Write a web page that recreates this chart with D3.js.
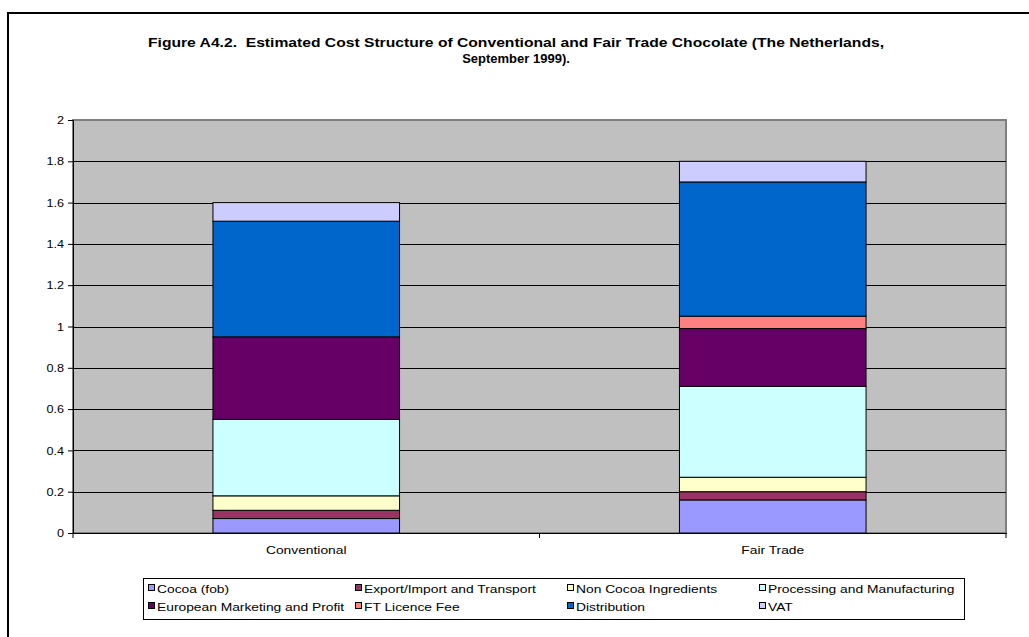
<!DOCTYPE html>
<html>
<head>
<meta charset="utf-8">
<script src="https://cdn.jsdelivr.net/npm/d3@7"></script>
<style>
  html, body { margin: 0; padding: 0; background: #fff; }
  text { font-family: "Liberation Sans", Arial, sans-serif; white-space: pre; }
</style>
</head>
<body>
<svg id="chart" width="1029" height="637"></svg>
<script>
const categories = ["Conventional", "Fair Trade"];
const seriesNames = ["Cocoa (fob)", "Export/Import and Transport", "Non Cocoa Ingredients", "Processing and Manufacturing",
  "European Marketing and Profit", "FT Licence Fee", "Distribution", "VAT"];
const cocoa        = [0.07, 0.16];
const exportImport = [0.04, 0.04];
const nonCocoa     = [0.07, 0.07];
const processing   = [0.37, 0.44];
const marketing    = [0.40, 0.28];
const ftFee        = [0.00, 0.06];
const distribution = [0.56, 0.65];
const vat          = [0.09, 0.10];
const yTicks = [0, 0.2, 0.4, 0.6, 0.8, 1, 1.2, 1.4, 1.6, 1.8, 2];
const colors = ["#9999FF", "#993366", "#FFFFCC", "#CCFFFF", "#660066", "#FF8080", "#0066CC", "#CCCCFF"];
const titleLines = ["Figure A4.2.  Estimated Cost Structure of Conventional and Fair Trade Chocolate (The Netherlands,", "September 1999)."];

const seriesValues = [cocoa, exportImport, nonCocoa, processing, marketing, ftFee, distribution, vat];
const table = categories.map((c, i) => {
  const row = { category: c };
  seriesNames.forEach((s, j) => row[s] = seriesValues[j][i]);
  return row;
});

const svg = d3.select("#chart");
const plot = { left: 73, right: 1006, top: 120, bottom: 533 };
const stretch = 1.2;  // the reference text is rendered wider than the local fonts

function widen(sel, k) {
  sel.each(function () {
    const w = this.getComputedTextLength();
    d3.select(this).attr("textLength", w * k).attr("lengthAdjust", "spacingAndGlyphs");
  });
}

// outer border
svg.append("rect").attr("x", 8).attr("y", 13).attr("width", 1040).attr("height", 640)
  .attr("fill", "none").attr("stroke", "#000").attr("stroke-width", 2);

// title
const titleTexts = svg.append("g").selectAll("text").data(titleLines).join("text")
  .attr("text-anchor", "middle").attr("x", 516).attr("y", (d, i) => 47 + i * 16)
  .attr("font-size", 13).attr("font-weight", "bold").attr("fill", "#000")
  .text(d => d);
titleTexts.filter((d, i) => i === 0)
  .attr("textLength", 736).attr("lengthAdjust", "spacingAndGlyphs");

const xOuter = d3.scaleBand().domain(categories).range([plot.left, plot.right]);
const y = d3.scaleLinear().domain([0, 2]).range([plot.bottom, plot.top]);
const barW = xOuter.bandwidth() / 2.5;   // Excel gap width 150%

// plot background
svg.append("rect").attr("x", plot.left).attr("y", plot.top)
  .attr("width", plot.right - plot.left).attr("height", plot.bottom - plot.top)
  .attr("fill", "#C0C0C0").attr("stroke", "#808080").attr("stroke-width", 2);

// gridlines
svg.append("g").selectAll("line").data(yTicks.filter(d => d > 0 && d < 2)).join("line")
  .attr("x1", plot.left).attr("x2", plot.right)
  .attr("y1", d => Math.round(y(d)) + 0.5).attr("y2", d => Math.round(y(d)) + 0.5)
  .attr("stroke", "#000").attr("stroke-width", 1);

// stacked bars
const stack = d3.stack().keys(seriesNames)(table);
svg.append("g").selectAll("g").data(stack).join("g")
  .attr("fill", (d, i) => colors[i])
  .selectAll("rect").data(d => d.filter(s => s[1] - s[0] > 0)).join("rect")
  .attr("x", d => xOuter(d.data.category) + (xOuter.bandwidth() - barW) / 2)
  .attr("width", barW)
  .attr("y", d => y(d[1]))
  .attr("height", d => y(d[0]) - y(d[1]))
  .attr("stroke", "#000").attr("stroke-width", 1);

// y axis
const yAxis = d3.axisLeft(y).tickValues(yTicks).tickSize(5).tickPadding(4)
  .tickFormat(d => d3.format("~g")(d));
const yg = svg.append("g").attr("transform", `translate(${plot.left},0)`).call(yAxis);
yg.select(".domain").attr("stroke", "#000");
yg.selectAll(".tick line").attr("stroke", "#000");
yg.selectAll("text").attr("font-size", 11.5).attr("fill", "#000")
  .attr("font-family", "'Liberation Sans', Arial, sans-serif");
widen(yg.selectAll("text"), 1.1);

// x axis
const xg = svg.append("g").attr("transform", `translate(0,${plot.bottom})`)
  .call(d3.axisBottom(xOuter).tickSize(0).tickPadding(13));
xg.select(".domain").attr("stroke", "#000");
xg.selectAll("text").attr("font-size", 11.5).attr("fill", "#000")
  .attr("font-family", "'Liberation Sans', Arial, sans-serif");
widen(xg.selectAll("text"), stretch);
// category separator ticks
const seps = [plot.left, ...categories.map(c => xOuter(c) + xOuter.bandwidth())];
svg.append("g").selectAll("line").data(seps).join("line")
  .attr("x1", d => d).attr("x2", d => d)
  .attr("y1", plot.bottom).attr("y2", plot.bottom + 5)
  .attr("stroke", "#000");

// legend
const lg = svg.append("g");
lg.append("rect").attr("x", 143.5).attr("y", 578.5).attr("width", 821).attr("height", 41)
  .attr("fill", "#fff").attr("stroke", "#000").attr("stroke-width", 1);
const colX = [148, 355, 567, 759];
seriesNames.forEach((s, i) => {
  const cx = colX[i % 4], cy = 588 + Math.floor(i / 4) * 18;
  lg.append("rect").attr("x", cx + 0.5).attr("y", cy - 3.5).attr("width", 6).attr("height", 6)
    .attr("fill", colors[i]).attr("stroke", "#000").attr("stroke-width", 1);
  lg.append("text").attr("class", "lt").attr("x", cx + 9).attr("y", cy + 4.5)
    .attr("font-size", 11.5).attr("fill", "#000").text(s);
});
widen(lg.selectAll("text.lt"), stretch);
</script>
</body>
</html>
